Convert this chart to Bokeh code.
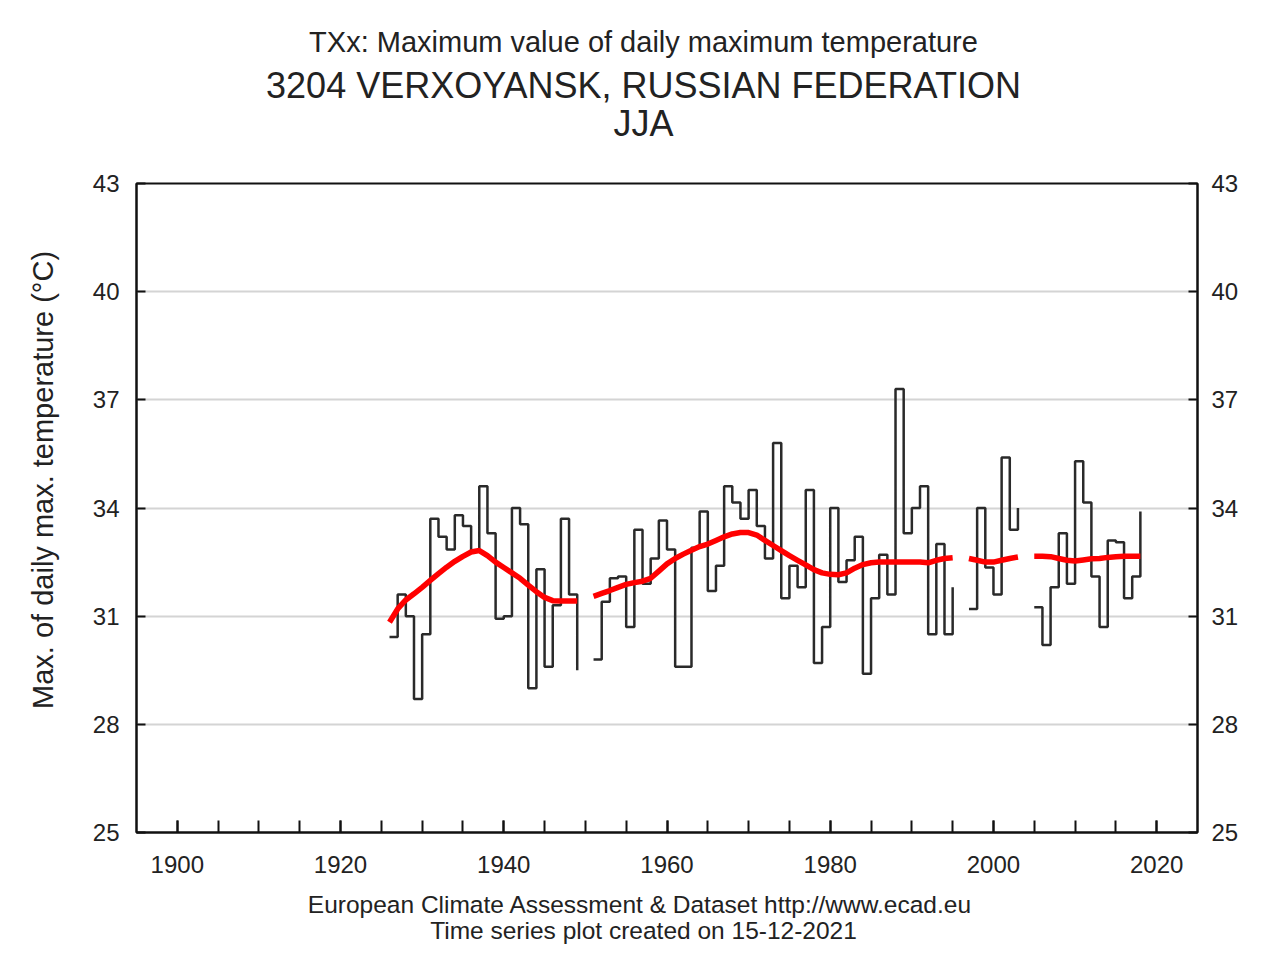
import math
from bokeh.plotting import figure
from bokeh.layouts import column, row
from bokeh.models import Range1d, LinearAxis, FixedTicker, Grid
from bokeh.core.properties import value
from bokeh.embed import file_html
from bokeh.resources import INLINE

nan = float("nan")

years = list(range(1926, 2019))

txx = [
    30.42, 31.6, 31.0, 28.7, 30.5, 33.7, 33.2, 32.85, 33.8, 33.5,      # 1926-1935
    32.8, 34.6, 33.3, 30.93, 31.0, 34.0, 33.55, 29.0, 32.3, 29.6,      # 1936-1945
    31.3, 33.7, 31.6, 29.5, nan, 29.8, 31.4, 32.05, 32.1, 30.7,        # 1946-1955
    33.4, 31.9, 32.6, 33.65, 32.85, 29.6, 29.6, 32.9, 33.9, 31.7,      # 1956-1965
    32.4, 34.6, 34.15, 33.7, 34.5, 33.5, 32.6, 35.8, 31.5, 32.4,       # 1966-1975
    31.8, 34.5, 29.7, 30.7, 34.0, 31.95, 32.55, 33.2, 29.4, 31.5,      # 1976-1985
    32.7, 31.6, 37.3, 33.3, 34.0, 34.6, 30.5, 33.0, 30.5, 31.8,        # 1986-1995
    nan, 31.2, 34.0, 32.35, 31.6, 35.4, 33.4, 34.0, nan, 31.25,        # 1996-2005
    30.2, 31.8, 33.3, 31.9, 35.3, 34.15, 32.1, 30.7, 33.1, 33.05,      # 2006-2015
    31.5, 32.1, 33.9,                                                  # 2016-2018
]

trend = [
    30.83, 31.2, 31.45, 31.62, 31.8, 31.99, 32.18, 32.36, 32.52, 32.66,   # 1926-1935
    32.78, 32.82, 32.68, 32.5, 32.35, 32.2, 32.05, 31.86, 31.68, 31.52,   # 1936-1945
    31.43, 31.42, 31.42, 31.42, nan, 31.55, 31.63, 31.71, 31.8, 31.88,    # 1946-1955
    31.93, 31.97, 32.05, 32.25, 32.45, 32.6, 32.72, 32.83, 32.93, 33.0,   # 1956-1965
    33.1, 33.2, 33.28, 33.32, 33.32, 33.25, 33.1, 32.96, 32.82, 32.68,    # 1966-1975
    32.55, 32.42, 32.29, 32.2, 32.16, 32.15, 32.2, 32.33, 32.43, 32.48,   # 1976-1985
    32.5, 32.5, 32.5, 32.5, 32.5, 32.5, 32.48, 32.55, 32.6, 32.62,        # 1986-1995
    nan, 32.6, 32.55, 32.5, 32.5, 32.55, 32.6, 32.64, nan, 32.66,         # 1996-2005
    32.66, 32.65, 32.6, 32.55, 32.53, 32.56, 32.59, 32.6, 32.63, 32.65,   # 2006-2015
    32.66, 32.66, 32.66,                                                  # 2016-2018
]

y_ticks = [25, 28, 31, 34, 37, 40, 43]
x_major = [1900, 1920, 1940, 1960, 1980, 2000, 2020]
x_minor = list(range(1900, 2021, 5))

title1 = "TXx: Maximum value of daily maximum temperature"
title2 = "3204 VERXOYANSK, RUSSIAN FEDERATION"
title3 = "JJA"
footer1 = "European Climate Assessment & Dataset  http://www.ecad.eu"
footer2 = "Time series plot created on 15-12-2021"
ylabel = "Max. of daily max. temperature (\u00b0C)"

FONT = "Liberation Sans"
TXT = "#222222"

W = 1266
TOP_H = 163
MAIN_W = 1196
MAIN_H = 729
LEFT_W = W - MAIN_W
BOT_H = 56


def text_fig(w, h):
    f = figure(width=w, height=h, output_backend="svg", toolbar_location=None,
               x_range=Range1d(0, w), y_range=Range1d(0, h),
               x_axis_type=None, y_axis_type=None, min_border=0)
    f.outline_line_color = None
    f.background_fill_color = "white"
    f.border_fill_color = "white"
    return f


# ---- header
top = text_fig(W, TOP_H)
top.text(x=[643], y=[TOP_H - 41], text=[title1], text_font=value(FONT),
         text_font_size=value("29px"), text_color=TXT, text_align="center",
         text_baseline="alphabetic")
top.text(x=[643, 643], y=[TOP_H - 85, TOP_H - 123], text=[title2, title3],
         text_font=value(FONT), text_font_size=value("36px"), text_color=TXT,
         text_align="center", text_baseline="alphabetic")

# ---- y axis title column
left = text_fig(LEFT_W, MAIN_H)
left.text(x=[42], y=[MAIN_H - (496 - TOP_H)], text=[ylabel], text_font=value(FONT),
          text_font_size=value("29px"), text_color=TXT, text_align="center",
          text_baseline="middle", angle=math.pi / 2)

# ---- main plot
p = figure(width=MAIN_W, height=MAIN_H, output_backend="svg", toolbar_location=None,
           x_range=Range1d(1895, 2025), y_range=Range1d(25, 43),
           min_border_left=136 - LEFT_W, min_border_right=MAIN_W - (136 - LEFT_W) - 1061,
           min_border_top=183 - TOP_H, min_border_bottom=MAIN_H - (183 - TOP_H) - 649,
           x_axis_type=None, y_axis_type=None)
p.background_fill_color = "white"
p.border_fill_color = "white"
p.outline_line_color = "#111111"
p.outline_line_width = 2

# horizontal grid lines
p.add_layout(Grid(dimension=1, ticker=FixedTicker(ticks=y_ticks),
                  grid_line_color="#d4d4d4", grid_line_width=2))


def style_axis(ax):
    ax.axis_line_color = "#111111"
    ax.axis_line_width = 2
    ax.major_tick_in = 9
    ax.major_tick_out = 0
    ax.minor_tick_in = 9
    ax.minor_tick_out = 0
    ax.major_tick_line_color = "#111111"
    ax.minor_tick_line_color = "#111111"
    ax.major_tick_line_width = 2
    ax.minor_tick_line_width = 2
    ax.major_label_text_font = FONT
    ax.major_label_text_font_size = "24px"
    ax.major_label_text_color = TXT


xb = LinearAxis(ticker=FixedTicker(ticks=x_major, minor_ticks=x_minor))
style_axis(xb)
xb.major_tick_in = 12
xb.minor_tick_in = 12
xb.major_label_standoff = 23
p.add_layout(xb, "below")

yl = LinearAxis(ticker=FixedTicker(ticks=y_ticks))
style_axis(yl)
yl.major_label_standoff = 17
p.add_layout(yl, "left")

yr = LinearAxis(ticker=FixedTicker(ticks=y_ticks))
style_axis(yr)
yr.major_label_standoff = 14
p.add_layout(yr, "right")

# data: step series, split at missing years
seg_x, seg_y = [], []
for yr_, v in zip(years, txx):
    if math.isnan(v):
        if seg_x:
            p.step(seg_x, seg_y, mode="after", line_color="#2a2a2a", line_width=2.5)
        seg_x, seg_y = [], []
    else:
        seg_x.append(yr_)
        seg_y.append(v)
if seg_x:
    p.step(seg_x, seg_y, mode="after", line_color="#2a2a2a", line_width=2.5)

# smoothed trend
p.line(years, trend, line_color="#ff0000", line_width=5.5)

# ---- footer
bot = text_fig(W, BOT_H)
bot.text(x=[643, 643], y=[BOT_H - (904 - 892), BOT_H - (930 - 892)], text=[footer1, footer2],
         text_font=value(FONT), text_font_size=value("24.5px"), text_color=TXT,
         text_align="center", text_baseline="alphabetic")

layout = column(top, row(left, p), bot)
open("out.html", "w").write(file_html(layout, INLINE))
